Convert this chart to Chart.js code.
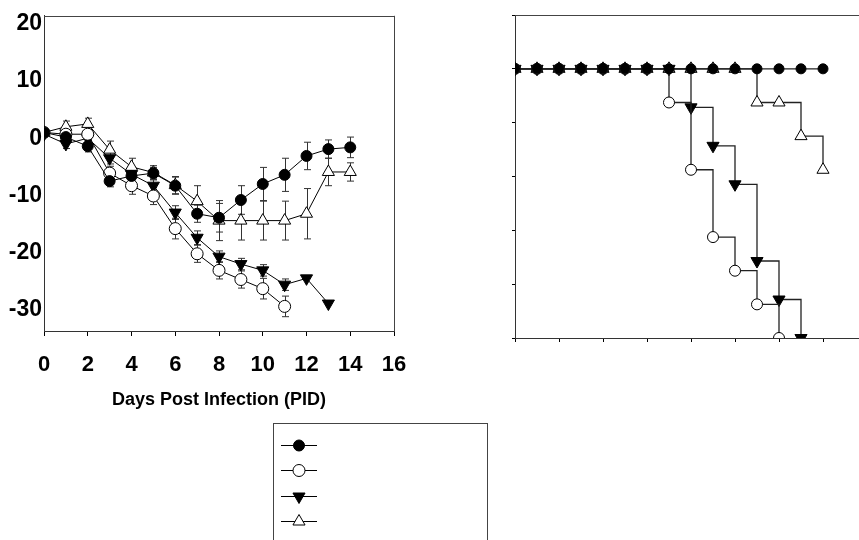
<!DOCTYPE html>
<html><head><meta charset="utf-8">
<script src="https://cdn.jsdelivr.net/npm/chart.js@4/dist/chart.umd.min.js"></script>
<style>
html,body{margin:0;padding:0;background:#fff;overflow:hidden;}
#page{position:relative;width:859px;height:540px;overflow:hidden;background:#fff;}
#wrapL{position:absolute;left:0;top:0;width:430px;height:420px;}
#wrapR{position:absolute;left:470px;top:0;width:420px;height:360px;}
#legend{position:absolute;left:273px;top:423px;width:215px;height:130px;border:1px solid #444;box-sizing:border-box;}
</style></head>
<body><div id="page">
<div id="wrapL"><canvas id="cL"></canvas></div>
<div id="wrapR"><canvas id="cR"></canvas></div>
<div id="legend"><canvas id="cLeg" width="213" height="128"></canvas></div>
</div>
<script>
// ---- weight change (left panel) ----
const days = [0,1,2,3,4,5,6,7,8,9,10,11,12,13,14];
const wFilled = [1.0,0.2,-1.4,-7.5,-6.6,-6.1,-8.3,-13.2,-13.9,-10.8,-8.0,-6.4,-3.1,-1.9,-1.6];
const eFilled = [0,0.5,1,1,1,1,1.5,1.5,2.5,2.5,2.9,2.9,2.4,1.6,1.8];
const wOpen   = [1.0,0.7,0.7,-6.1,-8.3,-10.1,-15.8,-20.2,-23.1,-24.7,-26.3,-29.4];
const eOpen   = [0,0.5,0.8,1.2,1.5,1.5,1.8,1.5,1.5,1.5,1.8,1.8];
const wDown   = [0.7,-1.0,0,-3.5,-6.3,-8.3,-13.0,-17.4,-20.7,-22.0,-23.1,-25.6,-24.5,-28.9];
const eDown   = [0,0.8,0.8,1,1,1,1.2,1.2,1,1,1,1,0,0];
const wUp     = [1.0,2.0,2.5,-2.0,-5.0,-6.0,-8.2,-11.0,-14.4,-14.4,-14.4,-14.4,-13.2,-5.9,-5.9];
const eUp     = [0,1,1,1.5,1.5,1.2,1.5,2.7,3.5,3.4,3.4,3.4,4.4,2.4,1.6];
const yTicksL = [-30,-20,-10,0,10,20];
const xTitle = 'Days Post Infection (PID)';

// ---- survival (right panel) ----
const sFilled = [100,100,100,100,100,100,100,100,100,100,100,100,100,100,100];
const sOpen   = [100,100,100,100,100,100,100,87.5,62.5,37.5,25,12.5,0];
const sDown   = [100,100,100,100,100,100,100,100,85.7,71.4,57.1,28.6,14.3,0];
const sUp     = [100,100,100,100,100,100,100,100,100,100,100,87.5,87.5,75,62.5];

const FONT = "'Liberation Sans', Arial, sans-serif";
const toXY = (arr) => arr.map((v,i)=>({x:days[i], y:v}));

const styles = [
  {pointStyle:'circle',  bg:'#000', rot:0,   rL:5.5, rR:5},
  {pointStyle:'circle',  bg:'#fff', rot:0,   rL:6,   rR:5.5},
  {pointStyle:'triangle',bg:'#000', rot:180, rL:7,   rR:7},
  {pointStyle:'triangle',bg:'#fff', rot:0,   rL:7,   rR:7}
];

function mkDs(data, st, r, extra){
  return Object.assign({
    data, borderColor:'#000', borderWidth:1, pointStyle:st.pointStyle,
    pointRotation:st.rot, pointRadius:r, pointBackgroundColor:st.bg,
    pointBorderColor:'#000', pointBorderWidth:1, pointHoverRadius:r, tension:0, fill:false
  }, extra||{});
}

const errorBars = {
  id:'errorBars',
  beforeDatasetsDraw(chart){
    const {ctx, scales:{x,y}} = chart;
    ctx.save(); ctx.strokeStyle='#333'; ctx.lineWidth=1;
    chart.data.datasets.forEach(ds=>{
      if(!ds.errors) return;
      ds.data.forEach((p,j)=>{
        const e = ds.errors[j]; if(!e) return;
        const px = Math.round(x.getPixelForValue(p.x))+0.5;
        const yt = y.getPixelForValue(p.y+e), yb = y.getPixelForValue(p.y-e);
        ctx.beginPath();
        ctx.moveTo(px,yt); ctx.lineTo(px,yb);
        ctx.moveTo(px-3.5,yt); ctx.lineTo(px+3.5,yt);
        ctx.moveTo(px-3.5,yb); ctx.lineTo(px+3.5,yb);
        ctx.stroke();
      });
    });
    ctx.restore();
  }
};
const frame = {
  id:'frame',
  afterDraw(chart, args, opts){
    const {ctx, chartArea:a} = chart;
    ctx.save(); ctx.strokeStyle='#444'; ctx.lineWidth=1;
    ctx.beginPath();
    ctx.moveTo(a.left, Math.round(a.top)+0.5); ctx.lineTo(a.right, Math.round(a.top)+0.5);
    if(opts.right){ ctx.moveTo(Math.round(a.right)+0.5, a.top); ctx.lineTo(Math.round(a.right)+0.5, a.bottom); }
    ctx.stroke(); ctx.restore();
  }
};

const chartL = new Chart(document.getElementById('cL'), {
  type:'line',
  data:{datasets:[
    mkDs(toXY(wFilled), styles[0], styles[0].rL, {errors:eFilled}),
    mkDs(toXY(wOpen),   styles[1], styles[1].rL, {errors:eOpen}),
    mkDs(toXY(wDown),   styles[2], styles[2].rL, {errors:eDown}),
    mkDs(toXY(wUp),     styles[3], styles[3].rL, {errors:eUp})
  ]},
  options:{
    responsive:true, maintainAspectRatio:false, animation:false,
    layout:{padding:{top:14,right:36,left:0,bottom:0}},
    plugins:{legend:{display:false}, tooltip:{enabled:false}, frame:{right:true}},
    scales:{
      x:{type:'linear', min:0, max:16,
        ticks:{stepSize:2, color:'#000', padding:16, font:{family:FONT, size:22, weight:'bold'}, maxRotation:0},
        grid:{display:true, drawOnChartArea:false, drawTicks:true, tickLength:5, color:'#000'},
        border:{display:true, color:'#333', width:1},
        title:{display:true, text:xTitle, color:'#000', font:{family:FONT, size:18, weight:'bold'}, padding:{top:0,bottom:9}},
        afterFit(s){ s.height = 89; }
      },
      y:{type:'linear', min:-33.7, max:21.4,
        afterBuildTicks(s){ s.ticks = yTicksL.map(v=>({value:v})); },
        ticks:{color:'#000', padding:2, font:{family:FONT, size:23, weight:'bold'}},
        grid:{display:false, drawTicks:false},
        border:{display:true, color:'#333', width:1},
        afterFit(s){ s.width = 44; }
      }
    }
  },
  plugins:[errorBars, frame]
});

const chartR = new Chart(document.getElementById('cR'), {
  type:'line',
  data:{datasets:[
    mkDs(toXY(sFilled), styles[0], styles[0].rR, {stepped:true, borderColor:'#222', borderWidth:1.3}),
    mkDs(toXY(sOpen),   styles[1], styles[1].rR, {stepped:true, borderColor:'#222', borderWidth:1.3}),
    mkDs(toXY(sDown),   styles[2], styles[2].rR, {stepped:true, borderColor:'#222', borderWidth:1.3}),
    mkDs(toXY(sUp),     styles[3], styles[3].rR, {stepped:true, borderColor:'#222', borderWidth:1.3})
  ]},
  options:{
    responsive:true, maintainAspectRatio:false, animation:false,
    layout:{padding:{top:15,right:23,left:0,bottom:0}},
    plugins:{legend:{display:false}, tooltip:{enabled:false}, frame:{right:false}},
    scales:{
      x:{type:'linear', min:0, max:16,
        ticks:{stepSize:2, display:false},
        grid:{display:true, drawOnChartArea:false, drawTicks:true, tickLength:4, color:'#000'},
        border:{display:true, color:'#333', width:1},
        afterFit(s){ s.height = 22; }
      },
      y:{type:'linear', min:0, max:120,
        ticks:{stepSize:20, display:false},
        grid:{display:true, drawOnChartArea:false, drawTicks:true, tickLength:3, color:'#000'},
        border:{display:true, color:'#333', width:1},
        afterFit(s){ s.width = 45; }
      }
    }
  },
  plugins:[frame]
});

// ---- legend box (no labels) ----
(function(){
  const c = document.getElementById('cLeg'); const ctx = c.getContext('2d');
  const rows = [21,46,72,97];
  chartL.data.datasets.forEach((ds,i)=>{
    const y = rows[i]+0.5;
    ctx.strokeStyle='#000'; ctx.lineWidth=1;
    ctx.beginPath(); ctx.moveTo(7,y); ctx.lineTo(43,y); ctx.stroke();
    ctx.fillStyle = ds.pointBackgroundColor; ctx.strokeStyle='#000'; ctx.lineWidth=1;
    const opts = {pointStyle:ds.pointStyle, radius:ds.pointRadius, rotation:ds.pointRotation, borderWidth:1};
    if (Chart.helpers && Chart.helpers.drawPoint) {
      Chart.helpers.drawPoint(ctx, opts, 25, y);
    }
  });
})();
</script>
</body></html>
